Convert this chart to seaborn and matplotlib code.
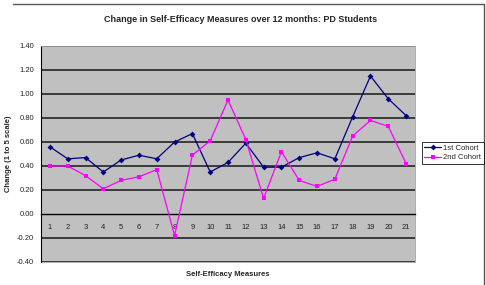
import pandas as pd
import numpy as np
import matplotlib
matplotlib.use('Agg')
import matplotlib.pyplot as plt
import seaborn as sns
from matplotlib.lines import Line2D

measures = list(range(1, 22))
cohort1 = [0.56, 0.46, 0.47, 0.35, 0.45, 0.49, 0.46, 0.60, 0.67, 0.35, 0.43,
           0.59, 0.39, 0.39, 0.47, 0.51, 0.46, 0.81, 1.15, 0.96, 0.82]
cohort2 = [0.40, 0.40, 0.32, 0.21, 0.28, 0.31, 0.37, -0.18, 0.49, 0.61, 0.95,
           0.62, 0.13, 0.52, 0.28, 0.23, 0.29, 0.65, 0.78, 0.73, 0.42]
series_names = ['1st Cohort', '2nd Cohort']
colors = {'1st Cohort': '#000080', '2nd Cohort': '#FF00FF'}
markers = {'1st Cohort': 'D', '2nd Cohort': 's'}

df = pd.DataFrame({
    'measure': measures * 2,
    'change': cohort1 + cohort2,
    'cohort': [series_names[0]] * 21 + [series_names[1]] * 21,
})

sns.set_style('white')
plt.rcParams['font.family'] = ['Liberation Sans', 'DejaVu Sans']

fig = plt.figure(figsize=(4.86, 2.85), dpi=100)
ax = fig.add_axes([41 / 486, 1 - 262 / 285, 374 / 486, 216 / 285])
ax.set_facecolor('#C0C0C0')

# horizontal gridlines
for y in np.arange(-0.4, 1.41, 0.2):
    if abs(y) > 1e-9:
        ax.axhline(y, color='#303030', lw=1.3, zorder=1)

sns.lineplot(data=df, x='measure', y='change', hue='cohort', style='cohort',
             palette=colors, markers=markers, dashes=False, lw=0.9,
             markersize=3, markeredgewidth=0, ax=ax, legend=False, zorder=3)

ax.set_xlim(0.5, 21.5)
ax.set_ylim(-0.4, 1.4)
ax.set_yticks(np.arange(-0.4, 1.41, 0.2))
ax.set_yticklabels([f'{v:.2f}' for v in np.arange(-0.4, 1.41, 0.2)], fontsize=5.5,
                   color='#222222')
ax.tick_params(axis='y', length=3, width=0.8, color='black', pad=2, direction='out')

# category axis crossing at zero
ax.spines['bottom'].set_position(('data', 0))
ax.spines['bottom'].set_color('black')
ax.spines['bottom'].set_linewidth(1.0)
ax.spines['left'].set_color('black')
ax.spines['left'].set_linewidth(0.8)
for s in ['top', 'right']:
    ax.spines[s].set_color('#A0A0A0')
    ax.spines[s].set_linewidth(0.6)
ax.set_xticks(measures)
ax.set_xticklabels([str(m) for m in measures], fontsize=5.5, color='#222222')
ax.set_xticks(np.arange(0.5, 21.6, 1), minor=True)
ax.tick_params(axis='x', which='major', length=0, pad=7)
ax.tick_params(axis='x', which='minor', length=2.5, width=0.8, color='black', direction='inout')
ax.plot([0.5, 21.5], [-0.4, -0.4], color='#A0A0A0', lw=0.6, clip_on=False, zorder=0)

ax.set_xlabel('')
ax.set_ylabel('')
fig.text(228 / 486, 1 - 275 / 285, 'Self-Efficacy Measures', ha='center', va='center',
         fontsize=5.5, fontweight='bold')
fig.text(9 / 486, 1 - 154 / 285, 'Change (1 to 5 scale)', ha='center', va='center',
         rotation=90, fontsize=5.5, fontweight='bold')
fig.text(241 / 486, 1 - 20 / 285,
         'Change in Self-Efficacy Measures over 12 months: PD Students',
         ha='center', va='center', fontsize=6.5, fontweight='bold')

handles = [Line2D([0], [0], color=colors[n], marker=markers[n], markersize=3,
                  markeredgewidth=0, lw=0.9) for n in series_names]
leg = fig.legend(handles, series_names, loc='upper left',
                 bbox_to_anchor=(422 / 486, 1 - 142 / 285), fontsize=5.5,
                 frameon=True, fancybox=False, handlelength=2.2,
                 handletextpad=0.3, borderpad=0.3, labelspacing=0.3,
                 borderaxespad=0)
leg.get_frame().set_edgecolor('black')
leg.get_frame().set_linewidth(0.7)

# chart border
fig.add_artist(Line2D([13 / 486, 484 / 486], [1 - 4 / 285, 1 - 4 / 285],
                      color='#555555', lw=1.0))
fig.add_artist(Line2D([484 / 486, 484 / 486], [1 - 4 / 285, 0],
                      color='#555555', lw=1.0))

fig.savefig('out.png', dpi=100)
